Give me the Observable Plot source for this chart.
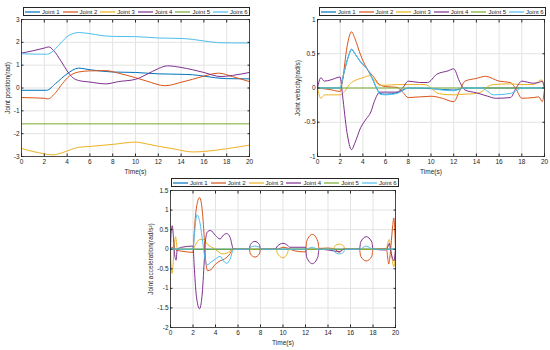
<!DOCTYPE html>
<html><head><meta charset="utf-8">
<script src="https://cdn.jsdelivr.net/npm/d3@7"></script>
<script src="https://cdn.jsdelivr.net/npm/@observablehq/plot@0.6"></script>
<style>
body{margin:0;background:#fff;font-family:"Liberation Sans",Arial,sans-serif;}
#root{position:relative;width:550px;height:350px;overflow:hidden;background:#fff;}
.panel{position:absolute;}
.panel svg{overflow:visible;}
.legend{position:absolute;border:1px solid #262626;background:#fff;display:flex;align-items:center;font-size:6px;color:#262626;box-sizing:border-box;padding-left:1px;}
.item{display:flex;align-items:center;flex:0 0 auto;}
.item svg{margin-right:2px;}
</style></head><body><div id="root"></div>
<script>
const jointNames = ["Joint 1","Joint 2","Joint 3","Joint 4","Joint 5","Joint 6"];
const jointColors = ["#0072BD","#D95319","#EDB120","#7E2F8E","#77AC30","#4DBEEE"];
const timeTicks = [0,2,4,6,8,10,12,14,16,18,20];
const posTicks = [-3,-2,-1,0,1,2,3];
const velTicks = [-1,-0.5,0,0.5,1];
const accTicks = [-2,-1.5,-1,-0.5,0,0.5,1,1.5];

// Joint position (rad): [time, value]
const pos1 = [[0,-0.1],[2.2,-0.1],[3,0.2],[4,0.62],[5,0.87],[6,0.8],[8,0.7],[10,0.68],[12,0.62],[14,0.6],[15,0.58],[16,0.52],[17,0.45],[18,0.41],[20,0.4]];
const pos2 = [[0,-0.42],[2,-0.45],[2.3,-0.48],[3,-0.2],[3.6,0.2],[4.2,0.52],[5,0.7],[6,0.75],[7.4,0.76],[8.5,0.65],[10,0.45],[11,0.3],[12.6,0.1],[14,0.25],[15,0.38],[16,0.52],[17.3,0.65],[18.5,0.5],[20,0.28]];
const pos3 = [[0,-2.65],[1,-2.78],[2,-2.88],[2.7,-2.93],[3.5,-2.85],[4.3,-2.7],[5,-2.6],[6,-2.56],[8,-2.47],[10,-2.37],[11,-2.45],[12,-2.55],[13.5,-2.68],[15,-2.8],[16,-2.78],[18,-2.66],[20,-2.5]];
const pos4 = [[0,1.53],[1,1.63],[2,1.75],[2.4,1.8],[2.8,1.65],[3.5,1.15],[4,0.75],[4.5,0.45],[5,0.33],[6,0.26],[7.4,0.18],[8.5,0.28],[10,0.38],[11,0.6],[12,0.85],[12.8,0.97],[14,0.9],[15,0.8],[16,0.68],[17.5,0.5],[18.5,0.55],[20,0.68]];
const pos5 = [[0,-1.57],[20,-1.57]];
const pos6 = [[0,1.5],[2.2,1.48],[2.6,1.55],[3,1.73],[3.5,2.0],[4,2.25],[4.5,2.38],[5,2.43],[6,2.38],[7,2.3],[8,2.26],[10,2.25],[12,2.19],[14,2.17],[15,2.13],[16,2.06],[17.5,1.98],[20,1.97]];

// Joint velocity (rad/s)
const vel1 = [[0,0],[2,0],[2.3,0.2],[2.7,0.45],[3,0.56],[3.3,0.5],[3.8,0.38],[4.4,0.27],[4.8,0.15],[5.2,0],[5.5,-0.08],[6,-0.09],[7,-0.07],[8,0],[10,-0.01],[12,-0.03],[13,0],[20,0]];
const vel2 = [[0,0],[1,-0.02],[2,-0.05],[2.2,0.1],[2.6,0.6],[3,0.82],[3.3,0.72],[3.8,0.48],[4.3,0.3],[5,0.15],[5.4,0.06],[6,0.02],[7,0.01],[7.5,-0.06],[8,-0.14],[10,-0.12],[11,-0.15],[12,-0.2],[12.5,-0.05],[13,0.1],[14,0.14],[14.8,0.17],[16,0.1],[17,0.08],[17.5,-0.02],[18,-0.15],[19,-0.14],[19.5,-0.13],[19.8,-0.2],[20,-0.02]];
const vel3 = [[0,0],[0.3,-0.15],[0.6,-0.1],[1,-0.1],[2,-0.1],[2.4,-0.05],[2.8,0.05],[3.2,0.1],[4,0.15],[4.6,0.18],[5,0.12],[5.5,0.04],[6,0.04],[7,0.05],[8,0.05],[9.5,0.05],[10,0.0],[10.5,-0.07],[11,-0.09],[12,-0.1],[13,-0.09],[14,-0.08],[14.5,-0.05],[15,0.02],[15.5,0.05],[17,0.06],[18,0.05],[19,0.05],[19.5,0.1],[19.7,0.12],[20,0]];
const vel4 = [[0,0],[0.3,0.15],[0.6,0.1],[1.2,0.12],[2,0.16],[2.2,-0.1],[2.6,-0.65],[3,-0.9],[3.3,-0.8],[3.8,-0.58],[4.3,-0.45],[4.7,-0.35],[5,-0.2],[5.5,-0.06],[7,-0.06],[7.5,0.0],[8,0.1],[9,0.08],[9.7,0.08],[10.5,0.2],[11.5,0.25],[12,0.28],[12.5,0.1],[13,-0.03],[14,-0.07],[15,-0.12],[15.7,-0.15],[17,-0.14],[17.5,0],[18,0.1],[19,0.07],[19.5,0.08],[19.8,0.1],[20,0]];
const vel5 = [[0,0],[20,0]];
const vel6 = [[0,0],[2,0],[2.3,0.2],[2.7,0.45],[3,0.57],[3.3,0.5],[3.8,0.38],[4.4,0.27],[4.8,0.15],[5.2,0],[5.5,-0.09],[6,-0.1],[7,-0.08],[7.5,-0.04],[8,0],[10,0],[10.5,-0.02],[12,-0.04],[13,0],[14.5,0],[15,-0.05],[15.5,-0.1],[17,-0.08],[17.5,-0.04],[18,0],[20,0]];

// Joint acceleration (rad/s^2)
const acc1 = [[0,0],[20,0]];
const acc2 = [[0,0],[0.15,0.05],[0.3,0.02],[0.6,-0.03],[1,-0.05],[2,-0.08],[2.1,0.4],[2.3,1.05],[2.58,1.32],[2.8,1.05],[3.0,0.3],[3.1,-0.2],[3.3,-0.55],[3.6,-0.52],[4.0,-0.38],[4.4,-0.3],[4.8,-0.25],[5.2,-0.15],[5.6,0],[7,0],[7.1,-0.12],[7.5,-0.2],[7.9,-0.12],[8.0,0],[9.5,0],[10,0.05],[10.5,0.02],[11,-0.04],[12,-0.07],[12.1,0.2],[12.6,0.38],[13.1,0.2],[13.2,0.02],[14,0.03],[14.6,0],[15,-0.08],[15.4,0],[16.8,0],[16.9,-0.18],[17.4,-0.3],[17.9,-0.18],[18,0],[19.2,0.02],[19.3,-0.2],[19.4,-0.38],[19.5,-0.2],[19.6,0.1],[19.75,0.6],[19.85,0.8],[19.95,0.4],[20,0]];
const acc3 = [[0,0],[0.05,-0.4],[0.15,-0.62],[0.25,-0.3],[0.35,0.15],[0.45,0.32],[0.55,0.1],[0.6,0],[2,0],[2.2,0.1],[2.6,0.25],[2.9,0.25],[3.3,0.12],[3.8,0.03],[4.2,-0.05],[4.6,-0.12],[5.0,-0.1],[5.6,0],[9.4,0],[9.5,-0.1],[10,-0.22],[10.4,-0.1],[10.5,0],[14.5,0],[14.6,0.08],[15,0.13],[15.4,0.08],[15.5,0],[19.2,0],[19.3,0.15],[19.45,0.25],[19.55,0.05],[19.7,-0.25],[19.85,-0.45],[19.95,-0.3],[20,0]];
const acc4 = [[0,0],[0.05,0.4],[0.15,0.6],[0.25,0.35],[0.35,-0.1],[0.5,-0.28],[0.6,0],[1,0.05],[2,0.08],[2.1,-0.4],[2.3,-1.2],[2.58,-1.52],[2.8,-1.2],[3.0,-0.3],[3.1,0.2],[3.3,0.45],[3.55,0.48],[4.0,0.35],[4.4,0.26],[4.7,0.36],[5.0,0.4],[5.3,0.3],[5.6,0],[7,0],[7.1,0.12],[7.5,0.2],[7.9,0.12],[8.0,0],[9.3,0],[9.5,0.08],[10,0.15],[10.4,0.1],[10.6,0.05],[12,0.05],[12.1,-0.2],[12.6,-0.37],[13.1,-0.2],[13.2,0],[14,-0.02],[15,-0.06],[15.4,0],[16.8,0],[16.9,0.18],[17.4,0.32],[17.9,0.18],[18,0],[19.2,-0.02],[19.3,0.05],[19.45,0.15],[19.55,0],[19.7,-0.2],[19.85,-0.3],[19.95,-0.15],[20,0]];
const acc5 = [[0,0],[20,0]];
const acc6 = [[0,0],[2,0],[2.1,0.3],[2.35,0.88],[2.6,0.7],[2.9,0.1],[3.1,-0.3],[3.25,-0.4],[3.6,-0.33],[4.0,-0.25],[4.4,-0.18],[4.7,-0.3],[5.0,-0.36],[5.3,-0.25],[5.6,0],[7,0],[7.1,0.05],[7.5,0.08],[7.9,0.05],[8,0],[12,0],[12.6,0.05],[13.1,0],[14.5,0],[14.6,-0.07],[15,-0.12],[15.4,-0.07],[15.5,0],[16.8,0],[17.4,0.08],[18,0],[20,0]];

const root = document.getElementById("root");
const fmt = d => String(d);

function makePanel(cfg) {
  const data = cfg.series.flatMap((s, i) => s.map(([t, v]) => ({t, v, joint: jointNames[i]})));
  const svg = Plot.plot({
    width: cfg.width, height: cfg.height,
    marginLeft: cfg.ml, marginRight: cfg.mr, marginTop: cfg.mt, marginBottom: cfg.mb,
    style: {fontFamily: '"Liberation Sans", Arial, sans-serif', fontSize: "6px", color: "#262626", background: "transparent"},
    x: {domain: [0, 20]},
    y: {domain: cfg.yDomain},
    color: {domain: jointNames, range: jointColors},
    marks: [
      Plot.gridX(timeTicks, {stroke: "#e3e3e3", strokeOpacity: 1}),
      Plot.gridY(cfg.yTicks, {stroke: "#e3e3e3", strokeOpacity: 1}),
      Plot.line(data, {x: "t", y: "v", z: "joint", stroke: "joint", curve: "monotone-x", strokeWidth: 1}),
      Plot.axisX(timeTicks, {anchor: "bottom", tickSize: -2.5, tickPadding: 5.5, tickFormat: fmt, fontSize: 6.5,
        label: "Time(s)", labelAnchor: "center", labelArrow: "none", labelOffset: 17}),
      Plot.axisX(timeTicks, {anchor: "top", tickSize: -2.5, tickFormat: () => "", label: null}),
      Plot.axisY(cfg.yTicks, {anchor: "left", tickSize: -2.5, tickPadding: 4.5, tickFormat: fmt, fontSize: 6.5,
        label: cfg.yLabel, labelAnchor: "center", labelArrow: "none", labelOffset: cfg.labelOffset}),
      Plot.axisY(cfg.yTicks, {anchor: "right", tickSize: -2.5, tickFormat: () => "", label: null}),
      Plot.frame({stroke: "#262626", strokeWidth: 0.8})
    ]
  });
  const div = document.createElement("div");
  div.className = "panel";
  div.style.left = cfg.left + "px";
  div.style.top = cfg.top + "px";
  div.appendChild(svg);
  root.appendChild(div);

  const lg = document.createElement("div");
  lg.className = "legend";
  lg.style.left = cfg.lg[0] + "px";
  lg.style.top = cfg.lg[1] + "px";
  lg.style.width = cfg.lg[2] + "px";
  lg.style.height = cfg.lg[3] + "px";
  jointNames.forEach((name, i) => {
    const it = document.createElement("div");
    it.className = "item";
    it.style.width = cfg.lg[4] + "px";
    it.innerHTML = `<svg width="15" height="4"><line x1="0" y1="2" x2="15" y2="2" stroke="${jointColors[i]}" stroke-width="1.2"/></svg><span>${name}</span>`;
    lg.appendChild(it);
  });
  root.appendChild(lg);
}

makePanel({series: [pos1,pos2,pos3,pos4,pos5,pos6], yDomain: [-3, 3], yTicks: posTicks,
  yLabel: "Joint position(rad)", labelOffset: 16,
  left: 0, top: 0, width: 275, height: 180, ml: 21, mr: 26, mt: 19, mb: 24,
  lg: [23, 7, 227, 9, 37.6]});
makePanel({series: [vel1,vel2,vel3,vel4,vel5,vel6], yDomain: [-1, 1], yTicks: velTicks,
  yLabel: "Joint velocity(rad/s)", labelOffset: 22,
  left: 275, top: 0, width: 275, height: 180, ml: 42, mr: 6, mt: 19, mb: 24,
  lg: [319, 7, 227, 9, 37.6]});
makePanel({series: [acc1,acc2,acc3,acc4,acc5,acc6], yDomain: [-2, 1.5], yTicks: accTicks,
  yLabel: "Joint acceleration(rad/s²)", labelOffset: 22,
  left: 120, top: 175, width: 290, height: 175, ml: 50, mr: 15, mt: 15, mb: 23,
  lg: [171, 178, 228, 9, 37.8]});
</script>
</body></html>
